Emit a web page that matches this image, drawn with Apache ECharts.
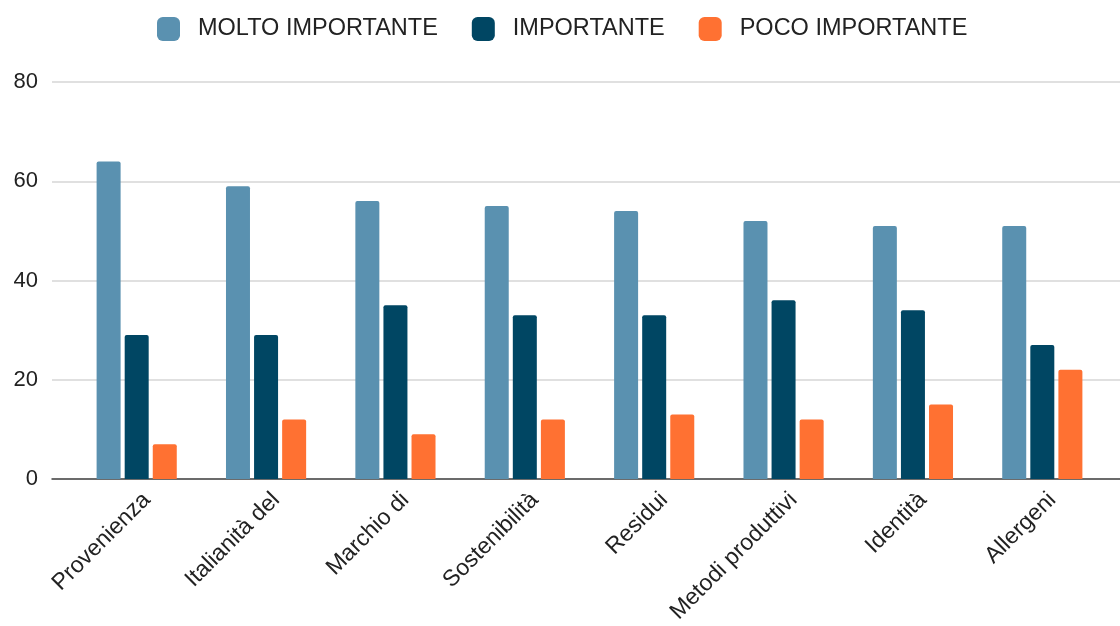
<!DOCTYPE html>
<html>
<head>
<meta charset="utf-8">
<script src="https://cdn.jsdelivr.net/npm/echarts@6/dist/echarts.min.js"></script>
<style>
  html, body { margin: 0; padding: 0; background: #fff; }
  #chart { width: 1120px; height: 626px; }
</style>
</head>
<body>
<div id="chart"></div>
<script>
const categories = ['Provenienza', 'Italianità del', 'Marchio di', 'Sostenibilità', 'Residui', 'Metodi produttivi', 'Identità', 'Allergeni'];
const seriesNames = ['MOLTO IMPORTANTE', 'IMPORTANTE', 'POCO IMPORTANTE'];
const moltoImportante = [64, 59, 56, 55, 54, 52, 51, 51];
const importante = [29, 29, 35, 33, 33, 36, 34, 27];
const pocoImportante = [7, 12, 9, 12, 13, 12, 15, 22];
const yTicks = [0, 20, 40, 60, 80];

const colors = ['#5a91b0', '#004663', '#ff7132'];
const font = '"Liberation Sans", Arial, sans-serif';

const chart = echarts.init(document.getElementById('chart'));

function bar(name, data, i) {
  return {
    name: name,
    type: 'bar',
    xAxisIndex: 1,
    yAxisIndex: 1,
    data: data,
    barWidth: 24,
    barGap: '17%',
    itemStyle: {color: colors[i], borderRadius: [2, 2, 0, 0]}
  };
}

chart.setOption({
  animation: false,
  textStyle: {fontFamily: font},
  legend: {
    left: 152,
    top: 12,
    itemWidth: 23,
    itemHeight: 24,
    itemGap: 34,
    icon: 'roundRect',
    textStyle: {fontSize: 23.5, color: '#222', fontFamily: font, padding: [0, 0, 0, 13]},
    data: seriesNames
  },
  grid: [
    {left: 52, right: 0, top: 82, bottom: 147},
    {left: 72, right: 13, top: 82, bottom: 147},
    {left: 82, right: 3, top: 82, bottom: 147}
  ],
  xAxis: [
    {
      gridIndex: 0, type: 'category', data: [''],
      axisLine: {lineStyle: {color: '#444', width: 1.5}},
      axisTick: {show: false}, axisLabel: {show: false}
    },
    {
      gridIndex: 1, type: 'category', data: categories,
      axisLine: {show: false}, axisTick: {show: false}, axisLabel: {show: false}
    },
    {
      gridIndex: 2, type: 'category', data: categories,
      axisLine: {show: false}, axisTick: {show: false},
      axisLabel: {rotate: 45, interval: 0, margin: 30, fontSize: 23, color: '#222', fontFamily: font}
    }
  ],
  yAxis: [
    {
      gridIndex: 0, type: 'value', min: yTicks[0], max: yTicks[yTicks.length - 1], interval: 20,
      axisLine: {show: false}, axisTick: {show: false},
      axisLabel: {fontSize: 22, color: '#222', margin: 14, fontFamily: font},
      splitLine: {lineStyle: {color: '#d6d6d6', width: 1.5}}
    },
    {
      gridIndex: 1, type: 'value', min: 0, max: 80, show: false
    },
    {
      gridIndex: 2, type: 'value', min: 0, max: 80, show: false
    }
  ],
  series: [
    bar(seriesNames[0], moltoImportante, 0),
    bar(seriesNames[1], importante, 1),
    bar(seriesNames[2], pocoImportante, 2)
  ]
});
</script>
</body>
</html>
